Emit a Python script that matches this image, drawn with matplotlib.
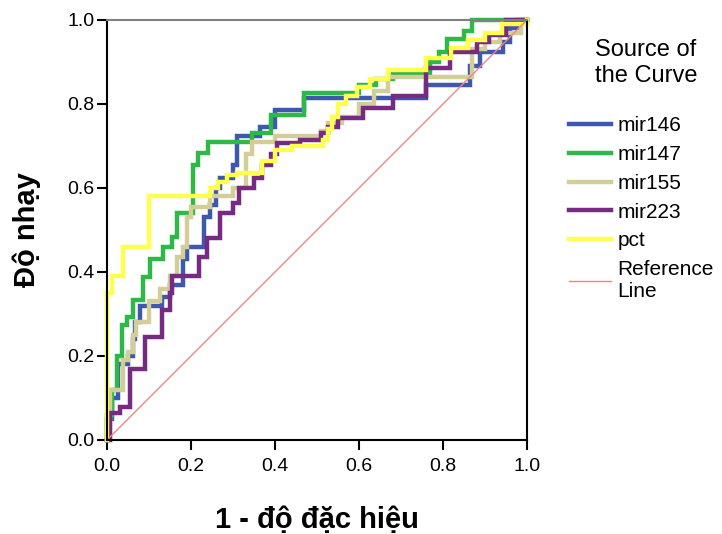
import matplotlib
matplotlib.use("Agg")
import matplotlib.pyplot as plt

# ROC step vertices (x = 1 - specificity, y = sensitivity); each point = top of a vertical step
mir146_x = [0, 0, 0.012, 0.025, 0.05, 0.062, 0.067, 0.079, 0.13, 0.15, 0.18, 0.19, 0.23, 0.245, 0.26, 0.27, 0.30, 0.31, 0.365, 0.40, 0.47, 0.76, 0.865, 0.888, 0.943, 0.96, 0.975, 1.0]
mir146_y = [0, 0.05, 0.10, 0.18, 0.20, 0.24, 0.28, 0.32, 0.34, 0.37, 0.43, 0.46, 0.53, 0.56, 0.60, 0.625, 0.655, 0.725, 0.745, 0.785, 0.815, 0.845, 0.89, 0.924, 0.948, 0.98, 1.0, 1.0]

mir147_x = [0, 0, 0.012, 0.024, 0.036, 0.048, 0.062, 0.086, 0.102, 0.133, 0.155, 0.167, 0.205, 0.217, 0.24, 0.345, 0.39, 0.47, 0.60, 0.64, 0.68, 0.77, 0.79, 0.81, 0.85, 0.87, 1.0]
mir147_y = [0, 0.06, 0.12, 0.20, 0.274, 0.293, 0.333, 0.388, 0.43, 0.46, 0.483, 0.54, 0.655, 0.683, 0.71, 0.73, 0.775, 0.826, 0.845, 0.86, 0.875, 0.90, 0.925, 0.955, 0.975, 1.0, 1.0]

mir155_x = [0, 0.007, 0.038, 0.05, 0.062, 0.07, 0.10, 0.126, 0.15, 0.167, 0.18, 0.19, 0.20, 0.245, 0.30, 0.33, 0.345, 0.40, 0.51, 0.525, 0.56, 0.60, 0.635, 0.67, 0.87, 0.90, 0.935, 0.985, 1.0]
mir155_y = [0, 0.12, 0.19, 0.21, 0.25, 0.28, 0.33, 0.36, 0.39, 0.435, 0.46, 0.53, 0.555, 0.58, 0.60, 0.68, 0.71, 0.725, 0.735, 0.755, 0.77, 0.80, 0.83, 0.865, 0.93, 0.948, 0.968, 1.0, 1.0]

mir223_x = [0, 0.007, 0.031, 0.055, 0.09, 0.13, 0.15, 0.155, 0.22, 0.238, 0.27, 0.30, 0.315, 0.35, 0.37, 0.39, 0.405, 0.46, 0.51, 0.525, 0.55, 0.61, 0.68, 0.76, 0.817, 0.88, 0.91, 0.95, 1.0]
mir223_y = [0, 0.064, 0.079, 0.17, 0.245, 0.31, 0.35, 0.39, 0.435, 0.48, 0.54, 0.565, 0.60, 0.625, 0.655, 0.68, 0.707, 0.715, 0.73, 0.745, 0.767, 0.79, 0.82, 0.886, 0.924, 0.948, 0.965, 1.0, 1.0]

pct_x = [0, 0, 0.012, 0.038, 0.10, 0.245, 0.265, 0.285, 0.31, 0.37, 0.40, 0.44, 0.514, 0.525, 0.535, 0.55, 0.57, 0.595, 0.625, 0.67, 0.76, 0.82, 0.86, 0.90, 0.94, 1.0]
pct_y = [0, 0.35, 0.39, 0.46, 0.58, 0.60, 0.615, 0.63, 0.636, 0.665, 0.69, 0.70, 0.714, 0.74, 0.77, 0.80, 0.82, 0.84, 0.86, 0.88, 0.91, 0.933, 0.952, 0.97, 0.99, 1.0]

series_names = ["mir146", "mir147", "mir155", "mir223", "pct"]
series_x = [mir146_x, mir147_x, mir155_x, mir223_x, pct_x]
series_y = [mir146_y, mir147_y, mir155_y, mir223_y, pct_y]
series_colors = ["#3E58AC", "#2EB848", "#D3CE97", "#762A82", "#FFFF50"]

ref_x = [0, 1]
ref_y = [0, 1]

ticks = [0.0, 0.2, 0.4, 0.6, 0.8, 1.0]
tick_labels = ["0.0", "0.2", "0.4", "0.6", "0.8", "1.0"]

plt.rcParams['font.family'] = ['Liberation Sans', 'DejaVu Sans']

fig = plt.figure(figsize=(7.22, 5.34), dpi=100)
ax = fig.add_axes([107/722, 1 - 440/534, 420/722, 420/534])

handles = []
for name, xs, ys, c in zip(series_names, series_x, series_y, series_colors):
    h, = ax.plot(xs, ys, drawstyle='steps-post', color=c, lw=3.2, clip_on=False,
                 solid_joinstyle='miter', label=name)
    handles.append(h)
href, = ax.plot(ref_x, ref_y, color="#F5827F", lw=1.0, label="Reference\nLine", clip_on=False)
handles.append(href)

ax.set_xlim(0, 1)
ax.set_ylim(0, 1)
ax.set_xticks(ticks)
ax.set_xticklabels(tick_labels)
ax.set_yticks(ticks)
ax.set_yticklabels(tick_labels)
ax.tick_params(axis='both', direction='out', length=7, width=1.5, labelsize=14, colors='black', pad=2)
ax.tick_params(axis='x', pad=6)
for s in ['left', 'bottom', 'right']:
    ax.spines[s].set_linewidth(1.5)
    ax.spines[s].set_color('black')
ax.spines['top'].set_linewidth(1.5)
ax.spines['top'].set_color('#808080')

fig.text(317/722, 1 - 520/534, "1 - độ đặc hiệu", ha='center', va='center', fontsize=21, fontweight='bold')
fig.text(27/722, 1 - 230/534, "Độ nhạy", ha='center', va='center', rotation=90, fontsize=21, fontweight='bold')

fig.text(646/722, 1 - 63/534, "Source of\nthe Curve", ha='center', va='center', fontsize=17,
         linespacing=1.25)

leg = ax.legend(handles=handles, labels=[h.get_label() for h in handles],
                loc='upper left',
                bbox_to_anchor=(561/722, 1 - 108/534), bbox_transform=fig.transFigure,
                frameon=False, fontsize=15, handlelength=2.0,
                handletextpad=0.3, labelspacing=0.47, borderaxespad=0)
for lh in leg.get_lines()[:5]:
    lh.set_linewidth(3.2)

fig.savefig("out.png", dpi=100)
